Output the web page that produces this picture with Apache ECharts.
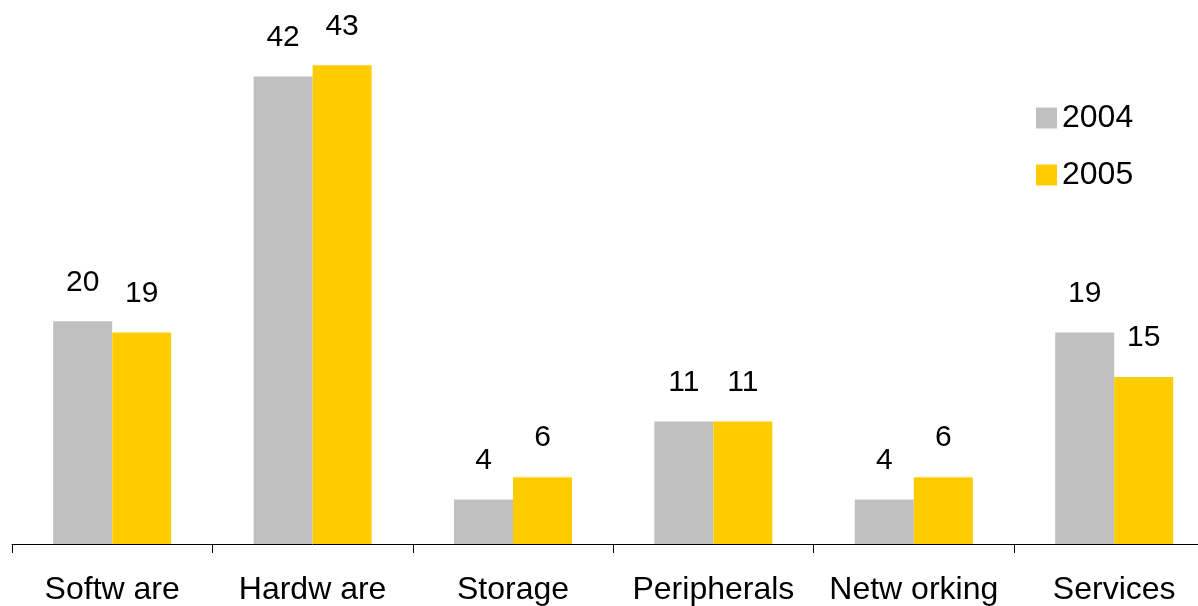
<!DOCTYPE html>
<html>
<head>
<meta charset="utf-8">
<script src="https://cdn.jsdelivr.net/npm/echarts@6/dist/echarts.min.js"></script>
<style>
html,body{margin:0;padding:0;background:#fff;overflow:hidden;width:1198px;height:606px;}
#chart{width:1215px;height:606px;}
</style>
</head>
<body>
<div id="chart"></div>
<script>
const categories = ["Softw are", "Hardw are", "Storage", "Peripherals", "Netw orking", "Services"];
const seriesNames = ["2004", "2005"];
const values2004 = [20, 42, 4, 11, 4, 19];
const values2005 = [19, 43, 6, 11, 6, 15];

const FONT = '"Liberation Sans", Arial, sans-serif';
const chart = echarts.init(document.getElementById('chart'), null, {renderer: 'canvas'});
const labelOpt = {
  show: true, position: 'top', distance: 24,
  color: '#000', fontFamily: FONT, fontSize: 30
};
chart.setOption({
  animation: false,
  backgroundColor: '#fff',
  grid: {left: 12, right: 0.6, top: 43, bottom: 61, containLabel: false},
  legend: {
    data: seriesNames,
    orient: 'vertical',
    left: 1031, top: 97,
    itemWidth: 21, itemHeight: 21, itemGap: 25,
    icon: 'rect',
    textStyle: {fontFamily: FONT, fontSize: 32, color: '#000', padding: [0,0,0,0]},
  },
  xAxis: {
    type: 'category',
    data: categories,
    axisLine: {show: true, lineStyle: {color: '#000', width: 1}},
    axisTick: {show: true, length: 9, lineStyle: {color: '#000'}},
    axisLabel: {color: '#000', fontFamily: FONT, fontSize: 32, margin: 30, interval: 0}
  },
  yAxis: {
    type: 'value', min: 0, max: 45,
    show: false, splitLine: {show: false}
  },
  series: [
    {name: seriesNames[0], type: 'bar', data: values2004, barWidth: 59, barGap: '0%',
     itemStyle: {color: '#C0C0C0'}, label: labelOpt},
    {name: seriesNames[1], type: 'bar', data: values2005, barWidth: 59, barGap: '0%',
     itemStyle: {color: '#FFCC00'}, label: labelOpt}
  ]
});
</script>
</body>
</html>
